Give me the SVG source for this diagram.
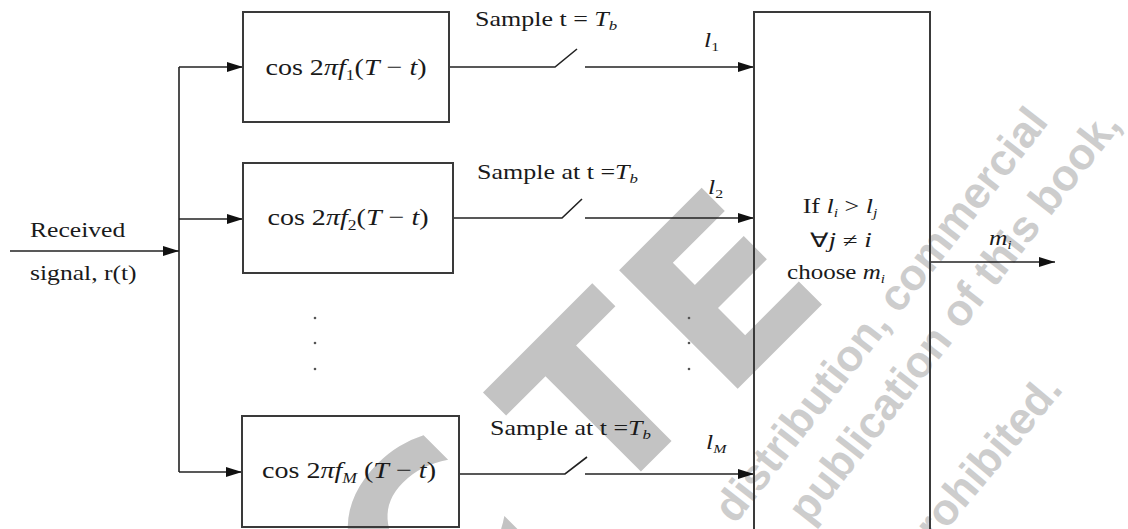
<svg xmlns="http://www.w3.org/2000/svg" width="1128" height="529" viewBox="0 0 1128 529">
<style>
.box{fill:none;stroke:#3a3a3a;stroke-width:2}
.ln{stroke:#222;stroke-width:1.6;fill:none}
.t{font-family:"Liberation Serif","Times New Roman",serif;fill:#1a1a1a}
.i{font-style:italic}
.wm{font-family:"Liberation Sans",Arial,sans-serif;font-weight:bold;fill:#cdcdcd}
.big{font-family:"DejaVu Sans",sans-serif;font-weight:bold;fill:#c3c3c3;font-size:230px}
.dot{fill:#555}
</style>
<defs>
<marker id="arr" markerWidth="16" markerHeight="10" refX="16" refY="5" orient="auto" markerUnits="userSpaceOnUse">
<path d="M0,0 L16,5 L0,10 z" fill="#111"/>
</marker>
</defs>
<rect width="1128" height="529" fill="#fff"/>
<g id="watermark">
<text class="big" text-anchor="middle" dominant-baseline="central" transform="translate(430,540) rotate(-45)">C</text>
<text class="big" text-anchor="middle" dominant-baseline="central" transform="translate(600,400) rotate(-45)">T</text>
<text class="big" text-anchor="middle" dominant-baseline="central" transform="translate(722,292) rotate(-45)">E</text>
<text class="wm" font-size="44" transform="translate(735,525) rotate(-52)">distribution, commercial</text>
<text class="wm" font-size="44" text-anchor="end" transform="translate(1122,125) rotate(-52)">publication of this book,</text>
<text class="wm" font-size="44" text-anchor="end" transform="translate(1064,390) rotate(-50)">prohibited.</text>
</g>
<g id="connectors">
<line class="ln" x1="10" y1="251" x2="179" y2="251" marker-end="url(#arr)"/>
<line class="ln" x1="179" y1="67" x2="179" y2="472"/>
<line class="ln" x1="179" y1="67" x2="243" y2="67" marker-end="url(#arr)"/>
<line class="ln" x1="179" y1="219" x2="243" y2="219" marker-end="url(#arr)"/>
<line class="ln" x1="179" y1="472" x2="242" y2="472" marker-end="url(#arr)"/>
<polyline class="ln" points="449,67 555,67 577,49"/>
<line class="ln" x1="585" y1="67" x2="754" y2="67" marker-end="url(#arr)"/>
<polyline class="ln" points="453,218 562,218 582,199"/>
<line class="ln" x1="585" y1="218" x2="754" y2="218" marker-end="url(#arr)"/>
<polyline class="ln" points="459,474 565,474 587,457"/>
<line class="ln" x1="585" y1="474" x2="754" y2="474" marker-end="url(#arr)"/>
<line class="ln" x1="930" y1="262" x2="1055" y2="262" marker-end="url(#arr)"/>
</g>
<g id="input-label">
<text class="t" font-size="21" transform="translate(30,237) scale(1.22,1)">Received</text>
<text class="t" font-size="21" transform="translate(30,280) scale(1.22,1)">signal, r(t)</text>
</g>
<g id="filter1">
<rect class="box" x="243" y="12" width="206" height="110"/>
<text class="t" font-size="24" text-anchor="middle" transform="translate(346,75) scale(1.17,1)">cos 2<tspan class="i">πf</tspan><tspan font-size="15" dy="5">1</tspan><tspan dy="-5">(</tspan><tspan class="i">T</tspan> − <tspan class="i">t</tspan>)</text>
</g>
<g id="filter2">
<rect class="box" x="243" y="163" width="210" height="110"/>
<text class="t" font-size="24" text-anchor="middle" transform="translate(348,225) scale(1.17,1)">cos 2<tspan class="i">πf</tspan><tspan font-size="15" dy="5">2</tspan><tspan dy="-5">(</tspan><tspan class="i">T</tspan> − <tspan class="i">t</tspan>)</text>
</g>
<g id="filterM">
<rect class="box" x="242" y="416" width="217" height="111"/>
<text class="t" font-size="24" text-anchor="middle" transform="translate(349,478) scale(1.17,1)">cos 2<tspan class="i">πf</tspan><tspan font-size="15" dy="5" class="i">M</tspan><tspan dy="-5"> (</tspan><tspan class="i">T</tspan> − <tspan class="i">t</tspan>)</text>
</g>
<g id="dots">
<circle class="dot" cx="315" cy="318" r="1.3"/>
<circle class="dot" cx="315" cy="343" r="1.3"/>
<circle class="dot" cx="315" cy="369" r="1.3"/>
<circle class="dot" cx="689" cy="318" r="1.3"/>
<circle class="dot" cx="689" cy="343" r="1.3"/>
<circle class="dot" cx="689" cy="369" r="1.3"/>
</g>
<g id="sample-labels">
<text class="t" font-size="20" transform="translate(475,26) scale(1.3,1)">Sample t =  <tspan class="i">T</tspan><tspan class="i" font-size="13" dy="4">b</tspan></text>
<text class="t" font-size="20" transform="translate(477,179) scale(1.3,1)">Sample at t =<tspan class="i">T</tspan><tspan class="i" font-size="13" dy="4">b</tspan></text>
<text class="t" font-size="20" transform="translate(490,435) scale(1.3,1)">Sample at t =<tspan class="i">T</tspan><tspan class="i" font-size="13" dy="4">b</tspan></text>
<text class="t i" font-size="21" transform="translate(704,47) scale(1.22,1)">l<tspan font-style="normal" font-size="13" dy="4">1</tspan></text>
<text class="t i" font-size="21" transform="translate(708,194) scale(1.22,1)">l<tspan font-style="normal" font-size="13" dy="4">2</tspan></text>
<text class="t i" font-size="21" transform="translate(706,449) scale(1.22,1)">l<tspan font-size="13" dy="4">M</tspan></text>
</g>
<g id="decision">
<rect class="box" x="754" y="12" width="176" height="530"/>
<text class="t" font-size="20" text-anchor="middle" transform="translate(840,213) scale(1.3,1)">If <tspan class="i">l</tspan><tspan class="i" font-size="12" dy="4">i</tspan><tspan dy="-4"> &gt; </tspan><tspan class="i">l</tspan><tspan class="i" font-size="12" dy="4">j</tspan></text>
<text class="t" font-size="20" text-anchor="middle" transform="translate(841,247) scale(1.35,1)">∀<tspan class="i">j</tspan> ≠ <tspan class="i">i</tspan></text>
<text class="t" font-size="20" text-anchor="middle" transform="translate(836,279) scale(1.25,1)">choose  <tspan class="i">m</tspan><tspan class="i" font-size="12" dy="4">i</tspan></text>
</g>
<g id="output-label">
<text class="t i" font-size="21" transform="translate(989,245) scale(1.22,1)">m<tspan font-size="12" dy="4">i</tspan></text>
</g>
</svg>
